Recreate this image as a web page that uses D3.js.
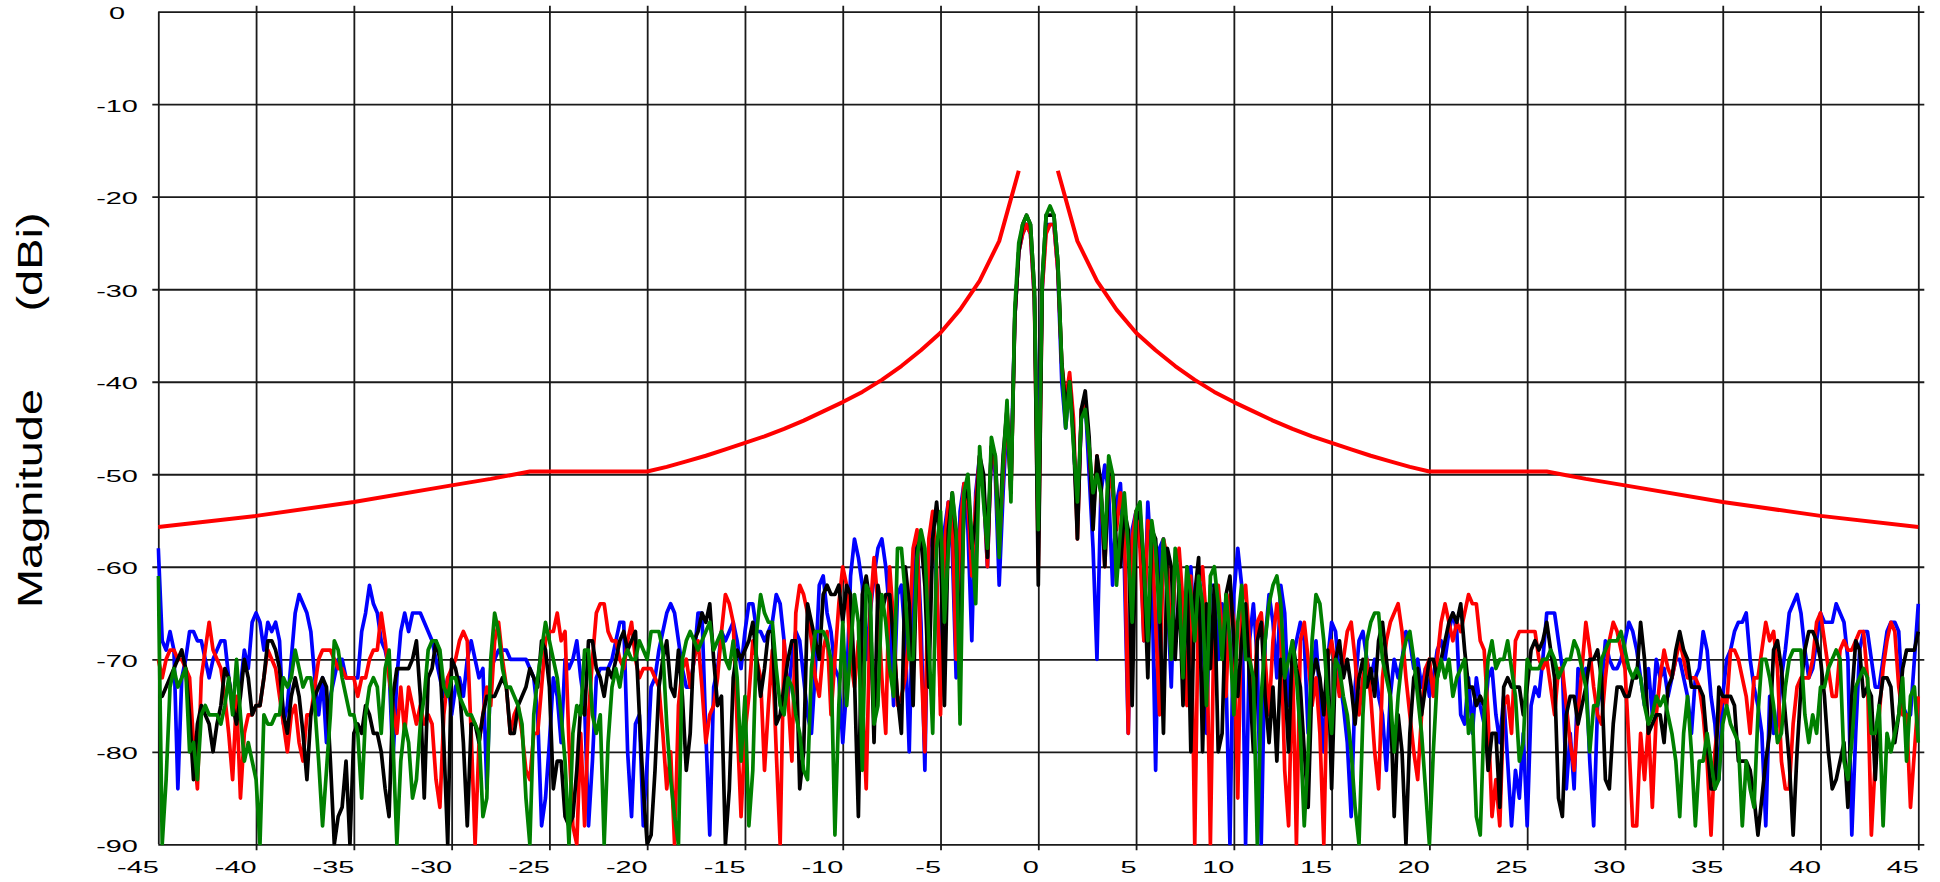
<!DOCTYPE html>
<html>
<head>
<meta charset="utf-8">
<script src="https://cdn.jsdelivr.net/npm/d3@7"></script>
<style>
  html, body { margin: 0; padding: 0; background: #fff; }
  svg { display: block; }
</style>
</head>
<body>
<script>
// Antenna pattern cuts: angle (deg) from -45 to 45 in 0.2 deg steps, magnitude in dBi
const angleStart = -45;
const angleStep = 0.2;

const blueCut = [
-58,-68,-69,-67,-69,-84,-72,-70,-67,-67,
-68,-68,-70,-72,-70,-69,-68,-68,-72,-75,
-76,-73,-69,-71,-66,-65,-66,-69,-66,-67,
-66,-68,-77,-75,-70,-65,-63,-64,-65,-67,
-72,-76,-72,-79,-74,-72,-70,-70,-72,-72,
-72,-72,-67,-65,-62,-64,-65,-68,-69,-71,
-81,-72,-67,-65,-67,-65,-65,-65,-66,-67,
-68,-70,-72,-74,-72,-76,-73,-72,-74,-70,
-68,-70,-72,-71,-84,-71,-70,-69,-69,-69,
-70,-70,-70,-70,-70,-71,-72,-76,-88,-85,
-79,-72,-74,-79,-70,-71,-70,-68,-72,-75,
-88,-81,-72,-71,-71,-71,-70,-68,-66,-66,
-80,-87,-77,-76,-88,-81,-73,-72,-69,-67,
-65,-64,-65,-68,-71,-73,-73,-70,-65,-65,
-78,-89,-73,-71,-67,-68,-67,-66,-68,-71,
-67,-64,-64,-67,-67,-68,-67,-66,-63,-64,
-68,-74,-70,-67,-68,-72,-76,-78,-71,-62,
-61,-65,-67,-71,-72,-79,-73,-61,-57,-59,
-62,-70,-65,-61,-58,-57,-60,-65,-75,-63,
-62,-68,-80,-62,-57,-66,-82,-58,-55,-62,
-74,-56,-53,-58,-72,-54,-51,-56,-68,-52,
-48,-52,-60,-47,-50,-62,-52,-44,-50,-33,
-26,-24,-23,-24,-31,-52,-30,-23,-23,-23,
-28,-40,-45,-40,-46,-55,-44,-42,-50,-58,
-70,-52,-49,-52,-62,-53,-51,-60,-78,-56,
-54,-56,-68,-53,-60,-82,-58,-57,-63,-73,
-59,-61,-72,-62,-60,-68,-60,-66,-78,-62,
-62,-70,-64,-72,-90,-63,-58,-62,-90,-68,
-64,-70,-90,-68,-63,-66,-72,-62,-65,-75,
-70,-68,-66,-68,-78,-72,-68,-74,-80,-70,
-66,-67,-72,-75,-79,-87,-73,-68,-67,-70,
-72,-70,-74,-76,-82,-74,-70,-72,-70,-67,
-68,-71,-70,-73,-71,-74,-72,-69,-68,-70,
-67,-65,-67,-76,-77,-72,-78,-72,-75,-77,
-72,-71,-76,-79,-74,-81,-88,-82,-85,-78,
-88,-75,-73,-74,-70,-65,-65,-65,-68,-71,
-84,-78,-84,-71,-72,-71,-81,-88,-75,-73,
-68,-70,-71,-71,-70,-68,-66,-67,-69,-72,
-75,-71,-76,-70,-72,-71,-74,-72,-70,-70,
-72,-74,-78,-72,-71,-67,-69,-74,-77,-83,
-74,-70,-69,-67,-66,-66,-65,-70,-73,-75,
-78,-88,-74,-78,-77,-72,-69,-65,-64,-63,
-65,-69,-72,-71,-68,-65,-66,-66,-66,-64,
-65,-66,-70,-89,-78,-69,-67,-67,-70,-73,
-73,-70,-67,-66,-66,-67,-75,-76,-76,-70,
-64];

const redCut = [
-70,-72,-70,-69,-69,-70,-70,-71,-72,-79,
-84,-72,-69,-66,-69,-70,-71,-74,-78,-83,
-74,-85,-78,-76,-76,-75,-75,-72,-69,-70,
-71,-74,-77,-80,-76,-75,-79,-81,-76,-76,
-73,-70,-69,-69,-69,-70,-71,-71,-72,-72,
-72,-74,-72,-72,-70,-69,-69,-65,-68,-72,
-75,-78,-73,-78,-73,-75,-77,-75,-77,-76,
-77,-83,-86,-76,-72,-71,-70,-68,-67,-68,
-78,-90,-79,-76,-73,-75,-68,-66,-70,-73,
-78,-76,-75,-78,-82,-83,-78,-78,-73,-68,
-67,-67,-65,-68,-67,-79,-88,-90,-78,-88,
-76,-70,-65,-64,-64,-67,-68,-68,-70,-71,
-68,-66,-70,-72,-71,-71,-71,-72,-73,-78,
-84,-80,-90,-75,-71,-70,-73,-70,-68,-73,
-79,-76,-75,-72,-67,-63,-64,-66,-77,-87,
-78,-74,-68,-70,-72,-82,-75,-69,-80,-90,
-68,-74,-81,-65,-62,-63,-65,-68,-72,-74,
-69,-67,-76,-70,-64,-60,-62,-70,-73,-68,
-74,-84,-65,-59,-64,-72,-78,-60,-66,-75,
-74,-72,-67,-58,-56,-70,-80,-57,-54,-60,
-76,-58,-53,-55,-70,-56,-51,-53,-61,-53,
-48,-51,-60,-47,-49,-58,-50,-43,-52,-33,
-26,-24,-23,-24,-31,-60,-30,-24,-23,-23,
-28,-38,-42,-39,-44,-57,-43,-42,-47,-55,
-48,-52,-60,-49,-52,-56,-52,-55,-78,-57,
-54,-58,-68,-55,-56,-66,-76,-57,-59,-70,
-60,-58,-64,-75,-61,-90,-62,-60,-66,-90,
-64,-62,-67,-74,-63,-66,-85,-64,-62,-68,
-78,-66,-65,-70,-76,-68,-64,-67,-82,-88,
-70,-90,-68,-66,-70,-75,-72,-78,-90,-70,
-68,-71,-74,-70,-67,-66,-70,-76,-72,-70,
-74,-80,-84,-72,-68,-66,-65,-64,-67,-72,
-76,-80,-83,-76,-71,-70,-74,-70,-66,-64,
-66,-68,-66,-67,-65,-63,-64,-64,-68,-69,
-76,-87,-83,-88,-75,-74,-78,-68,-67,-67,
-67,-67,-67,-70,-71,-70,-73,-76,-71,-71,
-75,-79,-82,-76,-71,-66,-69,-73,-76,-77,
-72,-68,-66,-67,-69,-71,-79,-88,-88,-78,
-83,-77,-86,-76,-72,-69,-71,-72,-70,-68,
-70,-72,-72,-72,-73,-76,-81,-89,-80,-76,
-74,-75,-69,-69,-70,-72,-74,-78,-72,-72,
-69,-66,-68,-67,-71,-81,-84,-84,-77,-73,
-72,-72,-72,-70,-66,-65,-68,-71,-74,-74,
-69,-68,-69,-69,-68,-67,-67,-72,-89,-81,
-76,-71,-68,-66,-67,-73,-76,-76,-86,-80,
-74];

const blackCut = [
-74,-74,-73,-72,-71,-70,-69,-71,-76,-83,
-77,-75,-76,-77,-80,-77,-75,-71,-72,-75,
-77,-74,-70,-72,-76,-75,-75,-72,-68,-68,
-69,-71,-76,-78,-74,-72,-74,-78,-83,-76,
-74,-73,-72,-73,-81,-90,-87,-86,-81,-90,
-78,-77,-78,-75,-76,-78,-78,-80,-84,-87,
-74,-71,-71,-71,-71,-70,-68,-74,-85,-72,
-71,-68,-70,-79,-90,-70,-71,-73,-79,-88,
-77,-77,-79,-76,-74,-74,-74,-73,-72,-73,
-78,-78,-75,-74,-73,-71,-72,-73,-68,-69,
-73,-84,-81,-81,-87,-88,-87,-82,-75,-76,
-68,-68,-71,-72,-74,-71,-72,-70,-68,-67,
-69,-68,-67,-76,-84,-90,-89,-82,-73,-70,
-68,-73,-74,-69,-74,-82,-78,-68,-67,-65,
-66,-64,-70,-75,-74,-90,-84,-72,-69,-70,
-69,-68,-66,-70,-74,-71,-67,-67,-77,-76,
-73,-70,-68,-68,-84,-80,-64,-66,-68,-70,
-63,-62,-63,-63,-62,-66,-62,-63,-72,-87,
-63,-61,-64,-79,-62,-65,-63,-63,-68,-74,
-78,-60,-64,-75,-58,-57,-62,-73,-57,-53,
-58,-75,-56,-52,-57,-70,-53,-51,-58,-55,
-48,-50,-59,-47,-48,-57,-48,-43,-52,-33,
-26,-23,-22,-23,-30,-62,-29,-22,-22,-22,
-27,-38,-43,-40,-46,-57,-43,-41,-46,-56,
-48,-51,-60,-50,-50,-58,-60,-54,-56,-75,
-55,-54,-60,-72,-56,-57,-64,-78,-58,-60,
-70,-62,-75,-60,-80,-63,-59,-80,-64,-71,
-62,-80,-78,-63,-61,-68,-74,-68,-64,-72,
-80,-68,-66,-74,-79,-73,-81,-70,-72,-80,
-68,-71,-73,-80,-86,-72,-70,-72,-76,-69,
-84,-70,-68,-72,-70,-73,-77,-72,-70,-73,
-71,-74,-68,-66,-70,-74,-87,-76,-80,-90,
-78,-72,-71,-76,-73,-70,-70,-72,-70,-68,
-66,-65,-66,-64,-69,-73,-73,-75,-74,-75,
-82,-78,-78,-86,-73,-72,-73,-73,-73,-76,
-73,-69,-68,-69,-68,-66,-69,-72,-85,-87,
-76,-74,-74,-77,-75,-73,-70,-70,-69,-72,
-83,-84,-77,-73,-73,-74,-74,-72,-72,-66,
-70,-78,-77,-76,-76,-79,-73,-72,-69,-67,
-69,-70,-73,-73,-73,-74,-79,-84,-84,-73,
-74,-74,-74,-75,-81,-81,-81,-82,-85,-89,
-85,-81,-78,-69,-68,-71,-76,-81,-89,-80,
-73,-69,-67,-67,-68,-70,-74,-80,-84,-83,
-81,-79,-86,-74,-68,-69,-74,-73,-74,-83,
-75,-72,-72,-73,-79,-76,-71,-69,-69,-69,
-67];

const greenCut = [
-61,-90,-83,-73,-71,-73,-72,-71,-80,-79,
-83,-76,-75,-76,-76,-76,-77,-75,-72,-76,
-70,-76,-81,-79,-81,-83,-90,-76,-77,-77,
-76,-76,-72,-73,-72,-69,-71,-73,-72,-72,
-75,-81,-88,-82,-76,-68,-69,-72,-74,-76,
-76,-78,-85,-76,-73,-72,-73,-78,-71,-69,
-79,-90,-81,-77,-79,-85,-83,-77,-74,-69,
-68,-68,-69,-73,-74,-72,-72,-74,-75,-76,
-76,-77,-78,-87,-85,-70,-65,-67,-71,-73,
-73,-74,-75,-77,-85,-90,-76,-72,-69,-66,
-68,-70,-72,-76,-81,-90,-78,-75,-76,-69,
-69,-76,-78,-76,-90,-79,-73,-71,-73,-70,
-69,-70,-70,-68,-69,-70,-67,-67,-67,-69,
-77,-83,-87,-90,-70,-68,-67,-68,-69,-68,
-67,-66,-69,-68,-67,-70,-71,-68,-72,-81,
-74,-88,-82,-67,-63,-65,-66,-66,-71,-75,
-76,-72,-73,-76,-78,-82,-83,-71,-67,-67,
-67,-68,-70,-89,-75,-66,-75,-69,-63,-66,
-82,-62,-63,-77,-75,-63,-66,-71,-74,-58,
-58,-63,-70,-70,-59,-56,-58,-68,-78,-58,
-54,-66,-58,-52,-56,-77,-52,-50,-57,-64,
-47,-53,-58,-46,-48,-59,-49,-42,-53,-32,
-25,-23,-22,-23,-30,-56,-29,-22,-21,-22,
-27,-38,-45,-40,-47,-53,-44,-43,-47,-52,
-50,-52,-58,-48,-50,-62,-56,-52,-58,-66,
-54,-53,-60,-68,-55,-58,-66,-57,-63,-70,
-58,-62,-72,-60,-63,-68,-61,-64,-75,-61,
-60,-64,-70,-63,-68,-76,-66,-62,-70,-70,
-72,-90,-74,-68,-64,-62,-61,-64,-72,-70,
-68,-72,-78,-88,-80,-68,-63,-64,-68,-74,
-78,-70,-71,-74,-76,-80,-86,-90,-76,-68,
-66,-65,-65,-70,-72,-74,-80,-74,-70,-68,
-67,-70,-74,-78,-84,-90,-80,-72,-70,-72,
-70,-74,-72,-71,-70,-78,-76,-87,-89,-76,
-70,-68,-71,-70,-70,-68,-71,-74,-81,-79,
-70,-71,-71,-71,-70,-70,-69,-70,-72,-71,
-70,-70,-68,-69,-71,-73,-80,-75,-75,-70,
-69,-68,-68,-68,-67,-69,-71,-72,-71,-72,
-75,-77,-76,-74,-75,-74,-76,-78,-81,-87,
-78,-74,-80,-88,-81,-81,-78,-81,-84,-83,
-77,-75,-77,-78,-79,-88,-81,-84,-86,-76,
-70,-70,-72,-75,-79,-78,-73,-70,-69,-69,
-69,-76,-79,-76,-78,-73,-73,-71,-70,-69,
-70,-81,-83,-79,-73,-72,-71,-72,-78,-78,
-75,-88,-78,-80,-78,-76,-72,-81,-74,-73,
-79];

// Sidelobe limit mask (two branches, broken around boresight)
const maskLeftAngles = [-45, -40, -35, -30, -29, -28, -27, -26, -20, -19, -18, -17, -16, -15, -14, -13, -12, -11, -10, -9, -8, -7, -6, -5, -4, -3, -2, -1];
const maskLeftLevels = [-55.7, -54.5, -53.0, -51.2, -50.85, -50.5, -50.1, -49.7, -49.7, -49.2, -48.6, -48.0, -47.3, -46.6, -45.9, -45.1, -44.2, -43.2, -42.2, -41.1, -39.8, -38.3, -36.6, -34.7, -32.2, -29.1, -24.8, -17.2];
const maskRightAngles = [1, 2, 3, 4, 5, 6, 7, 8, 9, 10, 11, 12, 13, 14, 15, 16, 17, 18, 19, 20, 26, 27, 28, 29, 30, 35, 40, 45];
const maskRightLevels = [-17.2, -24.8, -29.1, -32.2, -34.7, -36.6, -38.3, -39.8, -41.1, -42.2, -43.2, -44.2, -45.1, -45.9, -46.6, -47.3, -48.0, -48.6, -49.2, -49.7, -49.7, -50.1, -50.5, -50.85, -51.2, -53.0, -54.5, -55.7];

const xTicks = [-45, -40, -35, -30, -25, -20, -15, -10, -5, 0, 5, 10, 15, 20, 25, 30, 35, 40, 45];
const yTicks = [0, -10, -20, -30, -40, -50, -60, -70, -80, -90];

// ---- layout ----
const W = 1940, H = 882;
const plotL = 158.3, plotR = 1918.3, plotT = 11.7, plotB = 844.3;
const ext = 6;
const gridColor = "#1a1a1a";
const labelFont = "'Liberation Sans', Arial, sans-serif";

const x = d3.scaleLinear().domain([-45, 45]).range([plotL, plotR]);
const y = d3.scaleLinear().domain([0, -90]).range([plotT, plotB]);

const svg = d3.select("body").append("svg")
  .attr("width", W).attr("height", H)
  .style("background", "#fff");

svg.append("defs").append("clipPath").attr("id", "plotClip")
  .append("rect")
  .attr("x", plotL - 2).attr("y", plotT - 2)
  .attr("width", plotR - plotL + 4).attr("height", plotB - plotT + 3);

// horizontal grid + magnitude labels
const gY = svg.append("g")
  .attr("transform", `translate(${plotL},0)`)
  .call(d3.axisLeft(y).tickValues(yTicks).tickSize(0).tickFormat(d => String(d)));
gY.select(".domain").remove();
gY.selectAll(".tick line")
  .attr("x1", d => (d === 0 || d === -90) ? 0 : -ext)
  .attr("x2", plotR - plotL + ext)
  .attr("stroke", gridColor)
  .attr("stroke-width", 1.8);
gY.selectAll(".tick text")
  .attr("x", null).attr("dy", null)
  .attr("text-anchor", "middle")
  .attr("transform", `translate(${117 - plotL},7) scale(1.7,1)`)
  .attr("font-family", labelFont)
  .attr("font-size", 17)
  .attr("fill", "#000");

// vertical grid + angle labels
const gX = svg.append("g")
  .attr("transform", `translate(0,${plotB})`)
  .call(d3.axisBottom(x).tickValues(xTicks).tickSize(0).tickFormat(d => String(d)));
gX.select(".domain").remove();
gX.selectAll(".tick line")
  .attr("y1", d => d === -45 ? 0 : ext)
  .attr("y2", d => d === -45 ? -(plotB - plotT) : -(plotB - plotT) - ext)
  .attr("stroke", gridColor)
  .attr("stroke-width", 1.8);
gX.selectAll(".tick text")
  .attr("y", null).attr("dy", null)
  .attr("text-anchor", "end")
  .attr("transform", "translate(0,29) scale(1.7,1)")
  .attr("font-family", labelFont)
  .attr("font-size", 17)
  .attr("fill", "#000");

// axis title
const titleFont = "'Liberation Sans', Arial, sans-serif";
svg.append("text")
  .attr("transform", "translate(41.5,608) rotate(-90) scale(1.34,1)")
  .attr("font-family", titleFont).attr("font-size", 35).attr("fill", "#000")
  .text("Magnitude");
svg.append("text")
  .attr("transform", "translate(41.5,311.5) rotate(-90) scale(1.34,1)")
  .attr("font-family", titleFont).attr("font-size", 35).attr("fill", "#000")
  .text("(dBi)");

// measured cuts
const angleAt = i => angleStart + i * angleStep;
const cutLine = d3.line()
  .x((d, i) => x(angleAt(i)))
  .y(d => y(d));

const plot = svg.append("g").attr("clip-path", "url(#plotClip)");

const cuts = [
  { values: blueCut, color: "#0000ff" },
  { values: redCut, color: "#ff0000" },
  { values: blackCut, color: "#000000" },
  { values: greenCut, color: "#008000" }
];

plot.selectAll("path.cut").data(cuts).join("path")
  .attr("class", "cut")
  .attr("d", c => cutLine(c.values))
  .attr("fill", "none")
  .attr("stroke", c => c.color)
  .attr("stroke-width", 3.7)
  .attr("stroke-linejoin", "round");

// mask branches
const maskLine = d3.line()
  .x(d => x(d[0]))
  .y(d => y(d[1]));

const maskBranches = [
  d3.zip(maskLeftAngles, maskLeftLevels),
  d3.zip(maskRightAngles, maskRightLevels)
];

plot.selectAll("path.mask").data(maskBranches).join("path")
  .attr("class", "mask")
  .attr("d", maskLine)
  .attr("fill", "none")
  .attr("stroke", "#ff0000")
  .attr("stroke-width", 4)
  .attr("stroke-linejoin", "round");
</script>
</body>
</html>
